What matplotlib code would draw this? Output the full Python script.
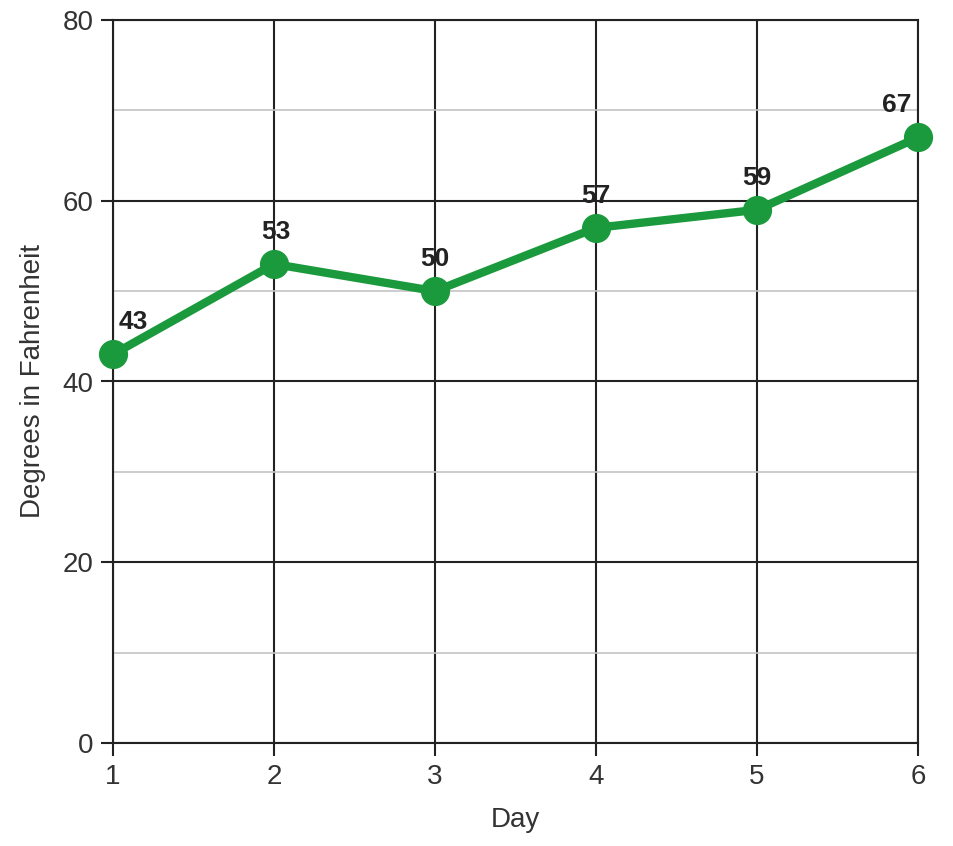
import matplotlib.pyplot as plt
from matplotlib.ticker import MultipleLocator

days = [1, 2, 3, 4, 5, 6]
temps = [43, 53, 50, 57, 59, 67]
# label offsets in pixels (dx) relative to the point
label_dx = [20, 2, 0, 0, 0, -21]

plt.rcParams['font.family'] = ['Liberation Sans', 'DejaVu Sans']

fig = plt.figure(figsize=(9.54, 8.46), dpi=100)
ax = fig.add_axes([113 / 954, 1 - 743 / 846, (918 - 113) / 954, (743 - 20) / 846])

ax.set_xlim(1, 6)
ax.set_ylim(0, 80)
ax.set_xticks(days)
ax.yaxis.set_major_locator(MultipleLocator(20))
ax.yaxis.set_minor_locator(MultipleLocator(10))

ax.grid(which='major', color='#222222', linewidth=1.5)
ax.grid(which='minor', axis='y', color='#c4c4c4', linewidth=1.2)
ax.tick_params(which='minor', length=0)
ax.tick_params(which='major', length=9, width=1.5, color='#222222',
               labelsize=20, labelcolor='#333333')
ax.tick_params(axis='x', pad=6)
ax.tick_params(axis='y', pad=5)
for spine in ax.spines.values():
    spine.set_color('#222222')
    spine.set_linewidth(1.5)
ax.set_axisbelow(True)

ax.plot(days, temps, color='#1a9a3c', linewidth=6, marker='o',
        markersize=20, clip_on=False, zorder=5)

for d, t, dx in zip(days, temps, label_dx):
    ax.annotate(str(t), (d, t), xytext=(dx * 0.72, 32 * 0.72),
                textcoords='offset points', ha='center', va='center',
                fontsize=19, fontweight='bold', color='#222222', zorder=6)

ax.set_xlabel('Day', fontsize=20, color='#333333', labelpad=12)
ax.set_ylabel('Degrees in Fahrenheit', fontsize=20, color='#333333', labelpad=12)

fig.savefig('out.png', dpi=100)
